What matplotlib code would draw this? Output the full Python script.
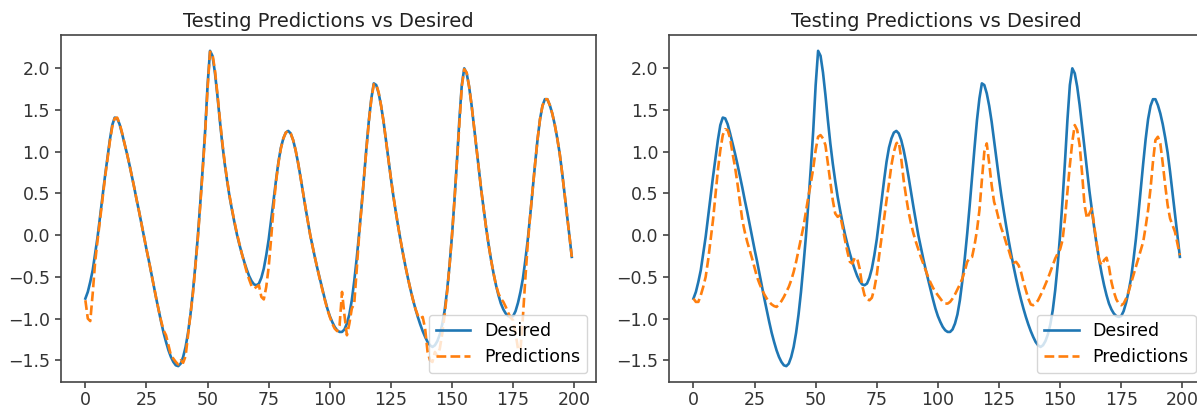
import numpy as np
import matplotlib
matplotlib.use("Agg")
import matplotlib.pyplot as plt

# target series, 200 test samples
desired = [
    -0.76, -0.68, -0.56, -0.42, -0.22, -0.02, 0.22, 0.46, 0.70, 0.92,
    1.14, 1.32, 1.41, 1.40, 1.33, 1.22, 1.10, 0.98, 0.85, 0.71,
    0.57, 0.42, 0.28, 0.13, -0.02, -0.17, -0.31, -0.46, -0.61, -0.76,
    -0.90, -1.04, -1.17, -1.28, -1.38, -1.46, -1.52, -1.56, -1.57, -1.54,
    -1.46, -1.34, -1.17, -0.95, -0.68, -0.36, -0.02, 0.38, 0.80, 1.25,
    1.80, 2.21, 2.15, 1.95, 1.68, 1.38, 1.10, 0.86, 0.65, 0.46,
    0.30, 0.15, 0.01, -0.11, -0.22, -0.32, -0.41, -0.49, -0.55, -0.59,
    -0.60, -0.58, -0.51, -0.40, -0.24, -0.05, 0.18, 0.42, 0.66, 0.88,
    1.05, 1.16, 1.23, 1.25, 1.22, 1.14, 1.02, 0.87, 0.70, 0.52,
    0.34, 0.17, 0.00, -0.14, -0.28, -0.41, -0.53, -0.65, -0.77, -0.88,
    -0.97, -1.04, -1.10, -1.14, -1.16, -1.16, -1.13, -1.06, -0.95, -0.78,
    -0.55, -0.28, 0.02, 0.35, 0.70, 1.05, 1.38, 1.64, 1.82, 1.80,
    1.70, 1.55, 1.36, 1.13, 0.90, 0.68, 0.47, 0.28, 0.10, -0.07,
    -0.23, -0.38, -0.52, -0.65, -0.77, -0.88, -0.98, -1.07, -1.15, -1.22,
    -1.28, -1.32, -1.34, -1.32, -1.27, -1.19, -1.07, -0.90, -0.66, -0.36,
    0.00, 0.42, 0.88, 1.38, 1.80, 2.00, 1.94, 1.78, 1.56, 1.30,
    1.04, 0.78, 0.53, 0.30, 0.08, -0.12, -0.30, -0.46, -0.60, -0.72,
    -0.82, -0.89, -0.94, -0.97, -0.98, -0.97, -0.91, -0.81, -0.68, -0.52,
    -0.30, -0.05, 0.24, 0.55, 0.86, 1.15, 1.39, 1.55, 1.63, 1.63,
    1.56, 1.46, 1.33, 1.17, 0.99, 0.76, 0.51, 0.26, 0.00, -0.26,
]

# first model
pred_a = [
    -0.78, -1.00, -1.03, -0.70, -0.32, -0.06, 0.18, 0.43, 0.68, 0.90,
    1.12, 1.30, 1.40, 1.41, 1.34, 1.23, 1.10, 0.98, 0.85, 0.71,
    0.57, 0.42, 0.28, 0.13, -0.02, -0.17, -0.31, -0.46, -0.61, -0.76,
    -0.90, -1.03, -1.14, -1.20, -1.32, -1.44, -1.48, -1.52, -1.55, -1.50,
    -1.53, -1.45, -1.20, -0.96, -0.70, -0.38, -0.04, 0.36, 0.78, 1.22,
    1.76, 2.20, 2.17, 1.98, 1.70, 1.40, 1.12, 0.87, 0.66, 0.47,
    0.31, 0.16, 0.02, -0.10, -0.22, -0.33, -0.44, -0.53, -0.61, -0.64,
    -0.62, -0.60, -0.74, -0.77, -0.62, -0.38, -0.04, 0.34, 0.64, 0.87,
    1.04, 1.16, 1.23, 1.25, 1.22, 1.14, 1.02, 0.87, 0.70, 0.52,
    0.34, 0.17, 0.00, -0.14, -0.28, -0.41, -0.54, -0.66, -0.78, -0.89,
    -0.98, -1.06, -1.12, -1.15, -1.08, -0.68, -0.96, -1.20, -1.06, -0.88,
    -0.82, -0.42, 0.00, 0.34, 0.69, 1.04, 1.37, 1.63, 1.81, 1.81,
    1.71, 1.55, 1.36, 1.13, 0.90, 0.68, 0.47, 0.28, 0.10, -0.07,
    -0.23, -0.38, -0.52, -0.65, -0.77, -0.88, -0.96, -1.00, -0.98, -1.12,
    -1.40, -1.50, -1.52, -1.40, -1.45, -1.36, -1.18, -0.95, -0.68, -0.36,
    0.00, 0.42, 0.88, 1.36, 1.78, 1.99, 1.95, 1.78, 1.56, 1.30,
    1.04, 0.78, 0.53, 0.30, 0.08, -0.12, -0.30, -0.46, -0.60, -0.70,
    -0.76, -0.80, -0.86, -0.93, -0.99, -1.02, -1.18, -1.36, -1.38, -0.98,
    -0.52, -0.10, 0.24, 0.55, 0.86, 1.15, 1.39, 1.55, 1.63, 1.63,
    1.56, 1.46, 1.33, 1.17, 0.99, 0.76, 0.51, 0.26, 0.00, -0.26,
]

# second model
pred_b = [
    -0.76, -0.80, -0.80, -0.72, -0.62, -0.50, -0.30, -0.06, 0.18, 0.48,
    0.78, 1.02, 1.20, 1.27, 1.26, 1.16, 0.98, 0.82, 0.62, 0.40,
    0.18, 0.04, -0.08, -0.18, -0.28, -0.39, -0.50, -0.58, -0.65, -0.71,
    -0.76, -0.80, -0.83, -0.85, -0.86, -0.83, -0.79, -0.74, -0.68, -0.62,
    -0.54, -0.44, -0.32, -0.18, -0.04, 0.10, 0.28, 0.46, 0.62, 0.80,
    1.02, 1.18, 1.20, 1.16, 1.08, 0.86, 0.64, 0.42, 0.26, 0.22,
    0.24, 0.10, -0.06, -0.20, -0.32, -0.34, -0.27, -0.28, -0.40, -0.60,
    -0.72, -0.77, -0.78, -0.75, -0.64, -0.48, -0.24, -0.02, 0.20, 0.42,
    0.62, 0.84, 1.00, 1.10, 1.12, 0.92, 0.66, 0.46, 0.28, 0.14,
    0.02, -0.08, -0.17, -0.26, -0.34, -0.42, -0.50, -0.57, -0.63, -0.68,
    -0.72, -0.76, -0.80, -0.82, -0.82, -0.80, -0.76, -0.71, -0.65, -0.59,
    -0.52, -0.43, -0.32, -0.27, -0.26, -0.12, 0.06, 0.30, 0.66, 1.00,
    1.10, 0.86, 0.60, 0.40, 0.30, 0.18, 0.08, 0.00, -0.10, -0.18,
    -0.28, -0.33, -0.32, -0.36, -0.44, -0.56, -0.66, -0.76, -0.83, -0.84,
    -0.82, -0.78, -0.72, -0.66, -0.59, -0.52, -0.44, -0.36, -0.28, -0.22,
    -0.17, -0.06, 0.20, 0.52, 0.84, 1.12, 1.32, 1.26, 1.08, 0.74,
    0.36, 0.20, 0.26, 0.32, 0.10, -0.10, -0.30, -0.36, -0.30, -0.27,
    -0.38, -0.56, -0.68, -0.77, -0.82, -0.84, -0.82, -0.76, -0.68, -0.58,
    -0.48, -0.38, -0.28, -0.18, -0.08, 0.10, 0.30, 0.56, 0.88, 1.14,
    1.18, 1.10, 0.86, 0.60, 0.36, 0.20, 0.12, 0.04, -0.10, -0.24,
]

t = np.arange(len(desired))

plt.rcParams.update({
    "font.size": 12.5,
    "axes.titlesize": 14,
    "lines.linewidth": 1.9,
    "axes.linewidth": 1.2,
    "axes.edgecolor": "#444444",
    "xtick.major.size": 4.0,
    "ytick.major.size": 4.4,
    "xtick.major.width": 1.1,
    "ytick.major.width": 1.1,
    "xtick.major.pad": 2.5,
    "xtick.color": "#333333",
    "ytick.color": "#333333",
})

fig = plt.figure(figsize=(11.97, 4.08), dpi=100)
ax1 = fig.add_axes([0.051, 0.064, 0.447, 0.850])
ax2 = fig.add_axes([0.559, 0.064, 0.447, 0.850])

for ax, pred in ((ax1, pred_a), (ax2, pred_b)):
    ax.plot(t, desired, label="Desired")
    ax.plot(t, pred, "--", label="Predictions")
    ax.set_title("Testing Predictions vs Desired", color="#222222")
    ax.legend(loc="lower right")

fig.savefig("out.png", dpi=100)
